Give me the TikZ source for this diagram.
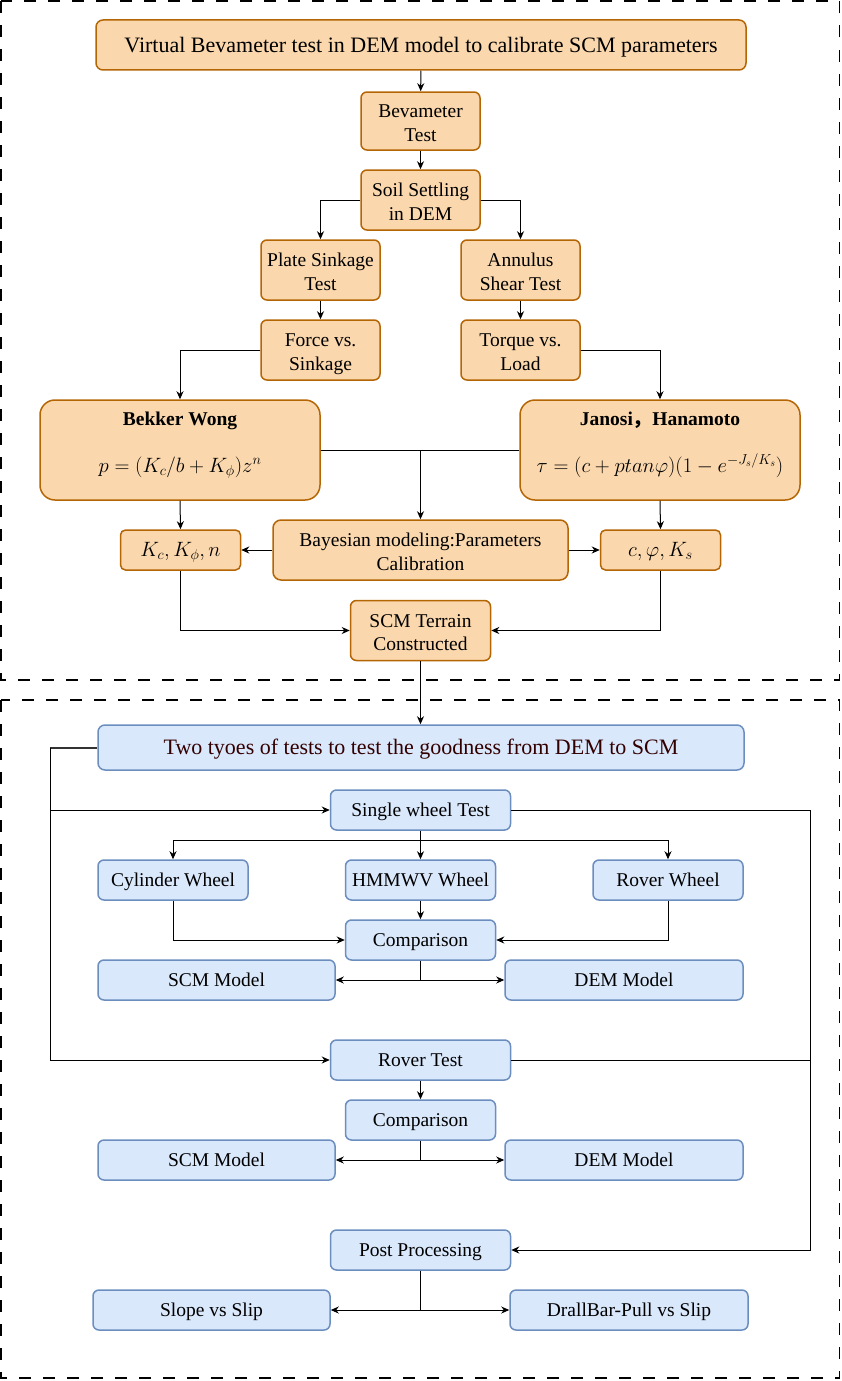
\documentclass[tikz,border=0pt]{standalone}
\usepackage{fontspec}
\setmainfont{Liberation Serif}
\newfontfamily\cjk{Noto Sans CJK SC}
\usetikzlibrary{arrows.meta}
\definecolor{ofill}{HTML}{FAD7AC}
\definecolor{oline}{HTML}{B46504}
\definecolor{bfill}{HTML}{DAE8FC}
\definecolor{bline}{HTML}{6C8EBF}
\definecolor{deepred}{HTML}{330000}
\definecolor{darkline}{HTML}{333333}
% two centred lines with fixed outer height and depth, so every box places them alike
\newcommand{\twolines}[2]{\rule{0pt}{21.9pt}#1\\#2\rule[-5pt]{0pt}{5pt}}
\begin{document}
\begin{tikzpicture}[x=1pt,y=-1pt,
  every node/.style={font=\fontsize{19.5}{23.5}\selectfont, align=center, inner sep=0pt},
  obox/.style={draw=oline, fill=ofill, line width=1.5pt, rounded corners=6pt},
  bbox/.style={draw=bline, fill=bfill, line width=1.5pt, rounded corners=6pt},
  one/.style={text height=14pt, text depth=0.8pt},
  bigfont/.style={font=\fontsize{22}{26}\selectfont, text height=15pt, text depth=0.2pt},
  conn/.style={line width=1pt},
  arr/.style={conn, -{Stealth[length=8pt,width=7pt,inset=2.5pt]}},
  frame/.style={line width=1.5pt, dash pattern=on 12pt off 12pt},
]
\useasboundingbox (0,0) rectangle (841,1381);

% dashed group frames
\draw[frame] (1,1) rectangle (839.5,680);
\draw[frame] (1,700) rectangle (839.5,1378);

% ---------- calibration stage ----------
\node[obox, bigfont, rounded corners=7pt, minimum width=650pt, minimum height=50pt] (title) at (421,45)
  {Virtual Bevameter test in DEM model to calibrate SCM parameters};
\node[obox, minimum width=119pt, minimum height=58pt] (bev) at (420.5,121) {\twolines{Bevameter}{Test}};
\node[obox, minimum width=119pt, minimum height=60pt] (soil) at (420.5,200) {\twolines{Soil Settling}{in DEM}};
\node[obox, minimum width=119pt, minimum height=60pt] (plate) at (320.5,270) {\twolines{Plate Sinkage}{Test}};
\node[obox, minimum width=119pt, minimum height=60pt] (annulus) at (520.5,270) {\twolines{Annulus}{Shear Test}};
\node[obox, minimum width=119pt, minimum height=60pt] (force) at (320.5,350) {\twolines{Force vs.}{Sinkage}};
\node[obox, minimum width=119pt, minimum height=60pt] (torque) at (520.5,350) {\twolines{Torque vs.}{Load}};

\node[obox, rounded corners=15pt, minimum width=280pt, minimum height=100pt] (bekker) at (180,450) {};
\node[anchor=base] (bekkerT) at (180,425) {\textbf{Bekker Wong}};
\node[anchor=base] (bekkerE) at (180,472) {$p=(K_c/b+K_\phi)z^n$};

\node[obox, rounded corners=15pt, minimum width=280pt, minimum height=100pt] (janosi) at (660,450) {};
\node[anchor=base] (janosiT) at (660,425) {\textbf{Janosi{\cjk ，}Hanamoto}};
\node[anchor=base] (janosiE) at (660,472) {$\tau=(c+ptan\varphi)(1-e^{-J_s/K_s})$};

\node[obox, one, rounded corners=5pt, minimum width=120pt, minimum height=40pt] (kc) at (180.5,550) {$K_c,K_\phi,n$};
\node[obox, rounded corners=8pt, minimum width=295pt, minimum height=60pt] (bayes) at (420.5,550)
  {\twolines{Bayesian modeling:Parameters}{Calibration}};
\node[obox, one, rounded corners=5pt, minimum width=120pt, minimum height=40pt] (cphi) at (660.5,550) {$c,\varphi,K_s$};
\node[obox, minimum width=140pt, minimum height=60pt] (scm) at (420.5,630.5) {\twolines{SCM Terrain}{Constructed}};

\draw[arr] (title) -- (bev);
\draw[arr] (bev) -- (soil);
\draw[arr] (soil.west) -| (plate.north);
\draw[arr] (soil.east) -| (annulus.north);
\draw[arr] (plate) -- (force);
\draw[arr] (annulus) -- (torque);
\draw[arr] (force.west) -| (bekker.north);
\draw[arr] (torque.east) -| (janosi.north);
\draw[conn] (bekker.east) -- (janosi.west);
\draw[arr] (bekker.east -| bayes.north) -- (bayes.north);
\draw[arr] (bekker.south) -- (kc.north);
\draw[arr] (janosi.south) -- (cphi.north);
\draw[arr] (bayes.west) -- (kc.east);
\draw[arr] (bayes.east) -- (cphi.west);
\draw[arr] (kc.south) |- (scm.west);
\draw[arr] (cphi.south) |- (scm.east);

% ---------- validation stage ----------
\node[bbox, bigfont, text=deepred, rounded corners=7pt, minimum width=646pt, minimum height=45pt] (two) at (421,747.5)
  {Two tyoes of tests to test the goodness from DEM to SCM};
\draw[arr] (scm.south) -- (scm.south |- two.north);

\node[bbox, one, minimum width=180pt, minimum height=40pt] (single) at (420.5,810) {Single wheel Test};
\node[bbox, one, minimum width=150pt, minimum height=40pt] (cyl) at (173,880) {Cylinder Wheel};
\node[bbox, one, minimum width=150pt, minimum height=40pt] (hmm) at (420.5,880) {HMMWV Wheel};
\node[bbox, one, minimum width=150pt, minimum height=40pt] (roverw) at (668,880) {Rover Wheel};
\node[bbox, one, minimum width=150pt, minimum height=40pt] (compA) at (420.5,940) {Comparison};
\node[bbox, one, minimum width=237pt, minimum height=40pt] (scmA) at (216.5,980) {SCM Model};
\node[bbox, one, minimum width=238pt, minimum height=40pt] (demA) at (624,980) {DEM Model};

\node[bbox, one, minimum width=180pt, minimum height=40pt] (rover) at (420.5,1060) {Rover Test};
\node[bbox, one, minimum width=150pt, minimum height=40pt] (compB) at (420.5,1120) {Comparison};
\node[bbox, one, minimum width=237pt, minimum height=40pt] (scmB) at (216.5,1160) {SCM Model};
\node[bbox, one, minimum width=238pt, minimum height=40pt] (demB) at (624,1160) {DEM Model};

\node[bbox, one, minimum width=180pt, minimum height=40pt] (post) at (420.5,1250) {Post Processing};
\node[bbox, one, minimum width=237pt, minimum height=40pt] (slope) at (211.5,1310) {Slope vs Slip};
\node[bbox, one, minimum width=238pt, minimum height=40pt] (drall) at (629,1310) {DrallBar-Pull vs Slip};

% left and right buses
\coordinate (lx) at (50,0);
\coordinate (rx) at (810,0);
\draw[line width=2pt, darkline] (two.west) -- (lx |- two.west);
\draw[arr] (lx |- two.west) |- (single.west);
\draw[arr] (lx |- two.west) |- (rover.west);
\draw[arr] (single.east) -| (rx |- post.east) -- (post.east);
\draw[conn] (rover.east) -- (rover.east -| rx);

% single wheel branch
\coordinate (sb) at (420.5,840);
\draw[conn] (single.south) -- (sb);
\draw[arr] (sb) -| (cyl.north);
\draw[arr] (sb) -| (roverw.north);
\draw[arr] (sb) -- (hmm.north);
\draw[arr] (hmm.south) -- (compA.north);
\draw[arr] (cyl.south) |- (compA.west);
\draw[arr] (roverw.south) |- (compA.east);
\coordinate (cbA) at (420.5,980);
\draw[conn] (compA.south) -- (cbA);
\draw[arr] (cbA) -- (scmA.east);
\draw[arr] (cbA) -- (demA.west);

% rover branch
\draw[arr] (rover.south) -- (compB.north);
\coordinate (cbB) at (420.5,1160);
\draw[conn] (compB.south) -- (cbB);
\draw[arr] (cbB) -- (scmB.east);
\draw[arr] (cbB) -- (demB.west);

% post processing branch
\coordinate (pb) at (420.5,1310);
\draw[conn] (post.south) -- (pb);
\draw[arr] (pb) -- (slope.east);
\draw[arr] (pb) -- (drall.west);
\end{tikzpicture}
\end{document}
